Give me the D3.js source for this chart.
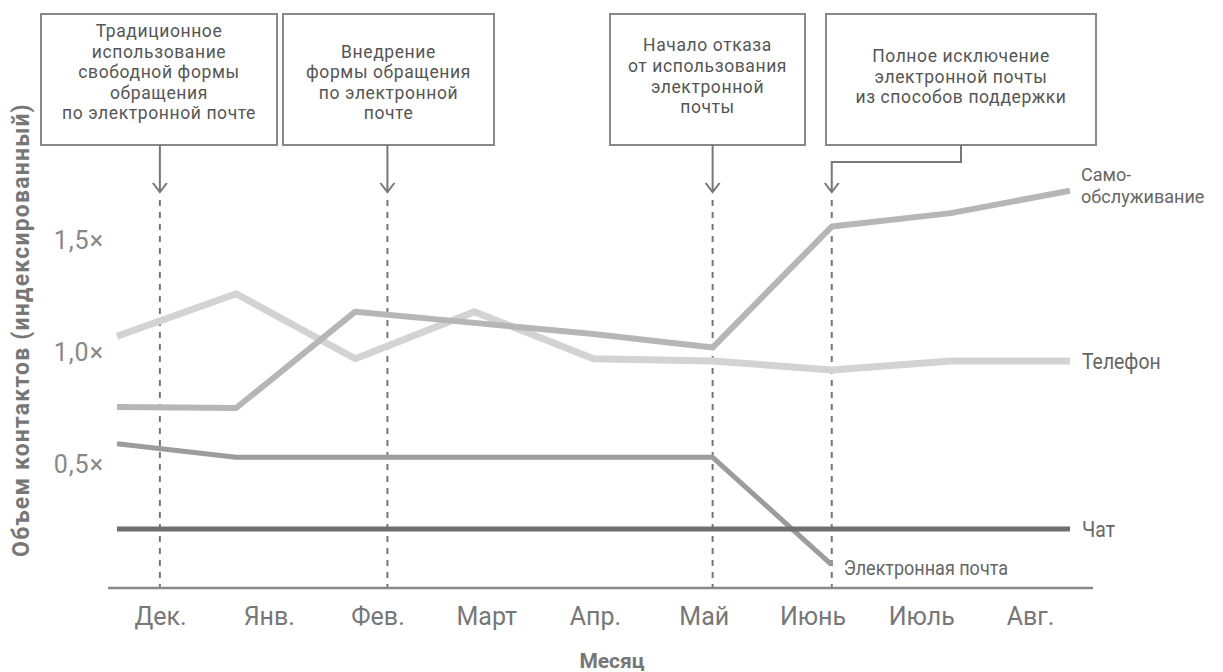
<!DOCTYPE html>
<html>
<head>
<meta charset="utf-8">
<script src="https://cdn.jsdelivr.net/npm/d3@7"></script>
<style>
body { margin: 0; background: #fff; }
svg { display: block; }
</style>
</head>
<body>
<svg id="viz" width="1223" height="672"></svg>
<script>
// months on the x axis
var months = ["Дек.", "Янв.", "Фев.", "Март", "Апр.", "Май", "Июнь", "Июль", "Авг."];

// indexed contact volume per channel
var phone       = [1.07, 1.26, 0.97, 1.18, 0.97, 0.96, 0.92, 0.96, 0.96];
var selfService = [0.755, 0.75, 1.18, 1.13, 1.08, 1.02, 1.56, 1.62, 1.72];
var email       = [0.59, 0.53, 0.53, 0.53, 0.53, 0.53, 0.05];
var chat        = [0.21, 0.21, 0.21, 0.21, 0.21, 0.21, 0.21, 0.21, 0.21];

var yTicks = [0.5, 1.0, 1.5];

// events: position in month units + box text
var eventPos = [0.36, 2.27, 5, 6];
var eventText = [
    ["Традиционное", "использование", "свободной формы", "обращения", "по электронной почте"],
    ["Внедрение", "формы обращения", "по электронной", "почте"],
    ["Начало отказа", "от использования", "электронной", "почты"],
    ["Полное исключение", "электронной почты", "из способов поддержки"]
];

var svg = d3.select("#viz");

var x = d3.scalePoint().domain(months).range([117, 1070]);
var xi = d3.scaleLinear().domain([0, months.length - 1]).range([117, 1070]);
var xLab = d3.scalePoint().domain(months).range([160, 1030]);
var y = d3.scaleLinear().domain([0, 1.5]).range([576, 240]);

var baseY = 588;

// boxes (layout)
var boxes = [
    {x0: 41, x1: 277, top: 14},
    {x0: 283, x1: 494, top: 14},
    {x0: 610, x1: 805, top: 14},
    {x0: 826, x1: 1096, top: 14}
];
var boxBottom = 145;
var boxLineY = [
    [31, 52, 72, 93, 113],
    [52, 72, 93, 113],
    [45, 66, 87, 107],
    [56, 77, 97]
];

// dashed event lines
svg.selectAll(".evline").data(eventPos).enter()
    .append("line")
    .attr("class", "evline")
    .attr("x1", function(d){ return xi(d); })
    .attr("x2", function(d){ return xi(d); })
    .attr("y1", 200)
    .attr("y2", baseY)
    .attr("stroke", "#777")
    .attr("stroke-width", 2)
    .attr("stroke-dasharray", "6,6");

// boxes
boxes.forEach(function(b, i){
    svg.append("rect")
        .attr("x", b.x0).attr("y", b.top)
        .attr("width", b.x1 - b.x0).attr("height", boxBottom - b.top)
        .attr("fill", "#fff")
        .attr("stroke", "#888")
        .attr("stroke-width", 2);
    var cx = (b.x0 + b.x1) / 2;
    svg.append("g").selectAll("text").data(eventText[i]).enter()
        .append("text")
        .attr("x", cx)
        .attr("y", function(d, j){ return boxLineY[i][j]; })
        .attr("dy", "0.35em")
        .attr("text-anchor", "middle")
        .attr("font-family", "Roboto, sans-serif")
        .attr("font-size", 17.5)
        .attr("letter-spacing", 0.6)
        .attr("fill", "#555")
        .text(function(d){ return d; });

    // connector + arrow
    var ex = xi(eventPos[i]);
    var path;
    if (i === 3) {
        path = "M" + 961 + "," + boxBottom + "V162H" + ex + "V192";
    } else {
        path = "M" + ex + "," + boxBottom + "V192";
    }
    svg.append("path")
        .attr("d", path)
        .attr("fill", "none")
        .attr("stroke", "#777")
        .attr("stroke-width", 2);
    svg.append("path")
        .attr("d", "M" + (ex - 7) + ",183L" + ex + ",192L" + (ex + 7) + ",183")
        .attr("fill", "none")
        .attr("stroke", "#777")
        .attr("stroke-width", 2);
});

// baseline
svg.append("line")
    .attr("x1", 108).attr("x2", 1093)
    .attr("y1", baseY).attr("y2", baseY)
    .attr("stroke", "#888")
    .attr("stroke-width", 2.5);

// series lines
var series = [
    {name: "Телефон", vals: phone, color: "#d3d3d3", w: 7},
    {name: "Само-обслуживание", vals: selfService, color: "#b6b6b6", w: 6},
    {name: "Электронная почта", vals: email, color: "#9c9c9c", w: 5},
    {name: "Чат", vals: chat, color: "#6f6f6f", w: 5}
];

var line = d3.line()
    .x(function(d, i){ return x(months[i]); })
    .y(function(d){ return y(d); });

svg.selectAll(".series").data(series).enter()
    .append("path")
    .attr("class", "series")
    .attr("d", function(d){ return line(d.vals); })
    .attr("fill", "none")
    .attr("stroke", function(d){ return d.color; })
    .attr("stroke-width", function(d){ return d.w; })
    .attr("stroke-linejoin", "round");

// narrow (squeezed) series labels
var narrowLabel = function(lines, lx, ly, size, sx){
    var g = svg.append("g")
        .attr("transform", "translate(" + lx + "," + ly + ") scale(" + sx + ",1)");
    g.selectAll("text").data(lines).enter()
        .append("text")
        .attr("x", 0)
        .attr("y", function(d, i){ return i * 22; })
        .attr("dy", "0.35em")
        .attr("font-family", "Roboto, sans-serif")
        .attr("font-size", size)
        .attr("fill", "#666")
        .text(function(d){ return d; });
};

var lastX = x(months[months.length - 1]);
narrowLabel(["Само-", "обслуживание"], lastX + 11, y(selfService[8]) - 16, 19, 0.95);
narrowLabel(["Телефон"], lastX + 12, y(phone[8]), 22, 0.88);
narrowLabel(["Чат"], lastX + 12, y(chat[8]), 22, 0.88);
narrowLabel(["Электронная почта"], x(months[email.length - 1]) + 12, y(email[email.length - 1]) + 3, 20, 0.9);

// y axis
var yAxis = svg.append("g")
    .attr("transform", "translate(104,0)")
    .call(d3.axisLeft(y).tickValues(yTicks).tickSize(0).tickPadding(0)
        .tickFormat(function(d){ return d.toFixed(1).replace(".", ",") + "×"; }));
yAxis.select(".domain").remove();
yAxis.selectAll("text")
    .attr("font-family", "Roboto, sans-serif")
    .attr("font-size", 25)
    .attr("letter-spacing", 1)
    .attr("fill", "#888");

// x axis
var xAxis = svg.append("g")
    .attr("transform", "translate(0," + baseY + ")")
    .call(d3.axisBottom(xLab).tickSize(0).tickPadding(19));
xAxis.select(".domain").remove();
xAxis.selectAll("text")
    .attr("font-family", "Roboto, sans-serif")
    .attr("font-size", 25)
    .attr("fill", "#777");

// axis titles
svg.append("text")
    .attr("transform", "translate(29,330) rotate(-90)")
    .attr("text-anchor", "middle")
    .attr("font-family", "Roboto, sans-serif")
    .attr("font-weight", "bold")
    .attr("font-size", 23)
    .attr("letter-spacing", 1.2)
    .attr("fill", "#777")
    .text("Объем контактов (индексированный)");

svg.append("text")
    .attr("x", 612).attr("y", 668)
    .attr("text-anchor", "middle")
    .attr("font-family", "Roboto, sans-serif")
    .attr("font-weight", "bold")
    .attr("font-size", 21)
    .attr("fill", "#777")
    .text("Месяц");
</script>
</body>
</html>
